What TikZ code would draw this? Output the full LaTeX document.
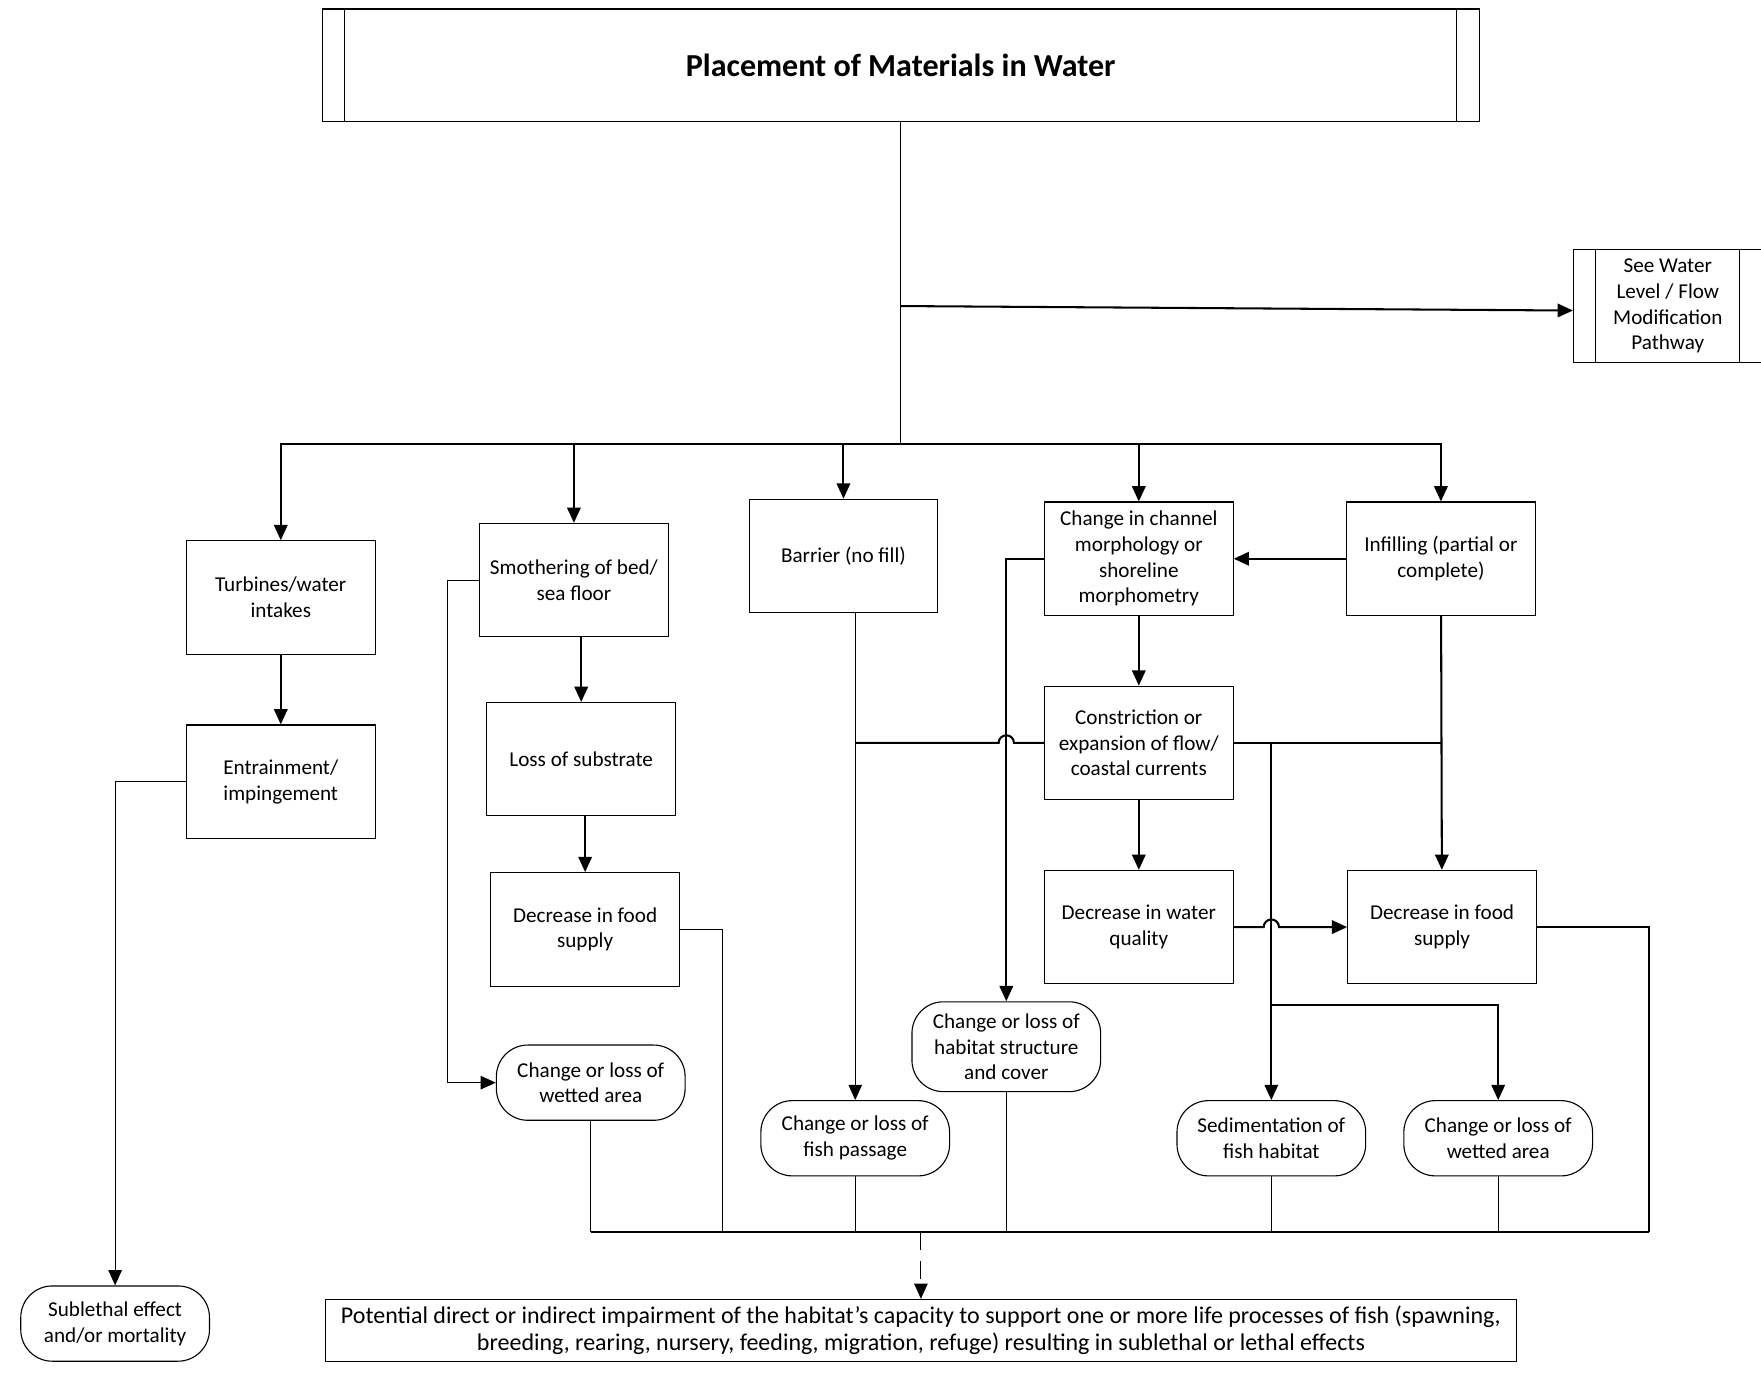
\documentclass[tikz,border=0pt]{standalone}
\usepackage{fontspec}
\setmainfont{Carlito}
\usetikzlibrary{arrows.meta, positioning}

\begin{document}
\begin{tikzpicture}[
  x=0.25mm, y=-0.25mm,
  box/.style={
    rectangle,
    draw=black,
    line width=0.7pt,
    align=center,
    inner sep=2pt,
    minimum width=42mm,
    minimum height=25.25mm,
    font=\fontsize{13.4}{16.3}\selectfont
  },
  term/.style={
    rectangle,
    draw=black,
    line width=0.7pt,
    rounded corners=7mm,
    align=center,
    inner sep=2pt,
    minimum width=42mm,
    minimum height=16.75mm,
    font=\fontsize{13.4}{16.3}\selectfont
  },
  procbox/.style={
    rectangle,
    draw=black,
    line width=0.7pt,
    align=center,
    inner sep=2pt,
    path picture={
      \draw[line width=0.7pt] ([xshift=5mm]path picture bounding box.north west) -- ([xshift=5mm]path picture bounding box.south west);
      \draw[line width=0.7pt] ([xshift=-5mm]path picture bounding box.north east) -- ([xshift=-5mm]path picture bounding box.south east);
    }
  },
  arrow/.style={-{Triangle[length=3.4mm, width=3mm]}, line width=1.3pt},
  link/.style={line width=1.3pt},
  thinlink/.style={line width=0.7pt},
  node distance=15.5mm and 25.25mm
]
\useasboundingbox (0,0) rectangle (1568,1222);

\node[procbox, minimum width=257.5mm, minimum height=25mm, font=\fontsize{20.3}{24}\selectfont\bfseries] (title) at (802,58) {Placement of Materials in Water};
\node[procbox, minimum width=42mm, minimum height=25.25mm, font=\fontsize{13.4}{16.3}\selectfont] (see) at (1485,272.5) {See Water\\Level / Flow\\Modification\\Pathway};

\node[box] (turb) at (250,532) {Turbines/water\\intakes};
\node[box, below=of turb] (entrain) {Entrainment/\\impingement};
\node[box] (smother) at (511,516.5) {Smothering of bed/\\sea floor};
\node[box] (loss) at (517.5,676) {Loss of substrate};
\node[box] (foodL) at (521,827.5) {Decrease in food\\supply};
\node[box] (barrier) at (751,495) {Barrier (no fill)};
\node[box] (chan) at (1014,497.5) {Change in channel\\morphology or\\shoreline\\morphometry};
\node[box, below=of chan] (constr) {Constriction or\\expansion of flow/\\coastal currents};
\node[box, below=of constr] (waterQ) {Decrease in water\\quality};
\node[box, right=of waterQ] (foodR) {Decrease in food\\supply};
\node[box] (infill) at (1283,497.5) {Infilling (partial or\\complete)};

\node[term] (wetL) at (526,964) {Change or loss of\\wetted area};
\node[term] (fish) at (761.5,1013.5) {Change or loss of\\fish passage};
\node[term, minimum height=20mm] (habitat) at (896,932) {Change or loss of\\habitat structure\\and cover};
\node[term] (sed) at (1132,1013.5) {Sedimentation of\\fish habitat};
\node[term] (wetR) at (1334,1013.5) {Change or loss of\\wetted area};
\node[term] (sub) at (102.5,1178.5) {Sublethal effect\\and/or mortality};
\node[box, minimum width=265mm, minimum height=13.75mm, font=\fontsize{15.2}{17}\selectfont] (bottom) at (820,1184.5) {Potential direct or indirect impairment of the habitat’s capacity to support one or more life processes of fish (spawning,\\breeding, rearing, nursery, feeding, migration, refuge) resulting in sublethal or lethal effects};

\coordinate (hub) at (802,395);
\coordinate (fork) at (1132,895);
\coordinate (busL) at (526,1097);
\coordinate (busR) at (1468,1097);
\coordinate (hopA) at (habitat.north |- constr.west);
\coordinate (hopB) at (sed.north |- waterQ.east);

\draw[thinlink] (title.south) -- (hub);
\draw[arrow] (title.south |- see.west) -- ([yshift=-1mm]see.west);
\draw[arrow] (hub) -| (turb.north);
\draw[arrow] (hub) -| (smother.north);
\draw[arrow] (hub) -| (barrier.north);
\draw[arrow] (hub) -| (chan.north);
\draw[arrow] (hub) -| (infill.north);

\draw[arrow] (turb) -- (entrain);
\draw[arrow, thinlink] (entrain.west) -| (sub.north);
\draw[arrow] (smother.south -| loss.north) -- (loss.north);
\draw[arrow] (loss.south -| foodL.north) -- (foodL.north);
\draw[arrow, thinlink] (smother.west) -- ++(-28,0) |- (wetL.west);
\draw[arrow, thinlink] (barrier.south -| fish.north) -- (fish.north);

\draw[arrow] (infill.west) -- (chan.east);
\draw[arrow] (chan.west) -| (habitat.north);
\draw[arrow] (chan) -- (constr);
\draw[arrow] (constr) -- (waterQ);
\draw[link] (constr.west) -- ([xshift=1.7mm]hopA) arc[start angle=0, end angle=180, radius=1.7mm] -- (fish.north |- constr.west);
\draw[link] (constr.east) -- (infill.south |- constr.east);
\draw[arrow] (infill) -- (foodR);
\draw[arrow] (sed.north |- constr.east) -- (sed.north);
\draw[arrow] (fork) -| (wetR.north);
\draw[arrow] (waterQ.east) -- ([xshift=-1.7mm]hopB) arc[start angle=180, end angle=0, radius=1.7mm] -- (foodR.west);

\draw[link] (busL) -- (busR);
\draw[thinlink] (wetL.south) -- (busL);
\draw[thinlink] (foodL.east) -- ++(38,0) coordinate (foodLbend) -- (foodLbend |- busL);
\draw[thinlink] (fish.south) -- (fish.south |- busL);
\draw[thinlink] (habitat.south) -- (habitat.south |- busL);
\draw[thinlink] (sed.south) -- (sed.south |- busL);
\draw[thinlink] (wetR.south) -- (wetR.south |- busL);
\draw[link] (foodR.east) -| (busR);
\draw[arrow, thinlink, dash pattern=on 4mm off 2.5mm] (bottom.north |- busL) -- (bottom.north);

\end{tikzpicture}
\end{document}
